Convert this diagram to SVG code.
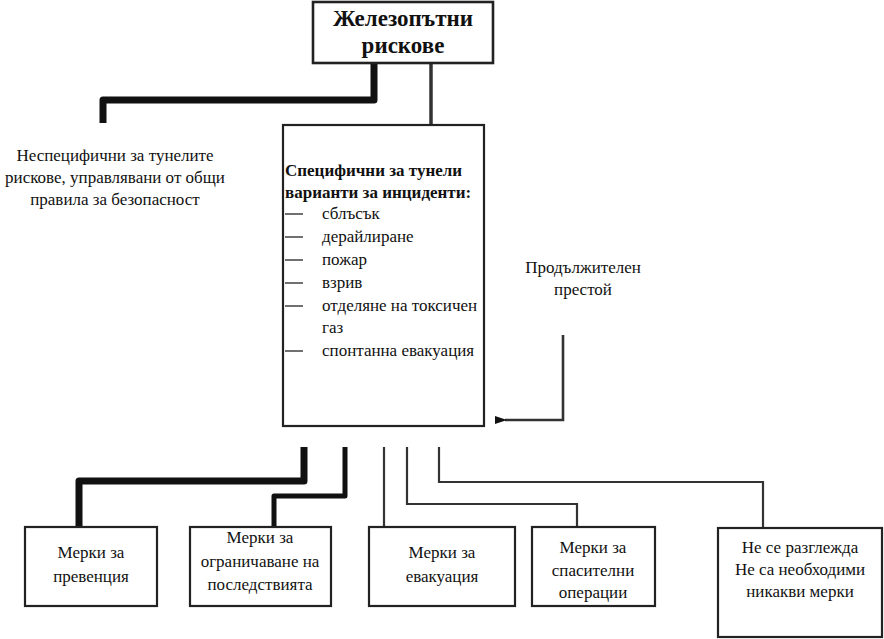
<svg xmlns="http://www.w3.org/2000/svg" width="884" height="639" viewBox="0 0 884 639">
<style>
.box{fill:#fff;stroke:#222;stroke-width:2.2}
.t{font-family:'Liberation Serif','Times New Roman','DejaVu Serif',serif;font-size:17px;fill:#111}
.c{text-anchor:middle}
.b{font-weight:bold}
.title{font-size:23px}
.thick{fill:none;stroke:#111;stroke-width:7;stroke-linejoin:round}
.mid{fill:none;stroke:#111;stroke-width:5;stroke-linejoin:round}
.thin{fill:none;stroke:#333;stroke-width:2.2}
.dash{stroke:#222;stroke-width:1.3}
</style>
<defs>
<marker id="ah" markerWidth="12" markerHeight="10" refX="2" refY="5" orient="auto" markerUnits="userSpaceOnUse">
<path d="M12,1 L0,5 L12,9 Z" fill="#111"/>
</marker>
</defs>
<rect width="884" height="639" fill="#fff"/>
<g id="connectors">
<path class="thick" d="M374,63 V100 H103 V123"/>
<path class="thin" d="M431,63 V125" style="stroke-width:3.5"/>
<path class="thin" d="M563,335 V420 H505" style="stroke-width:2.6" marker-end="url(#ah)"/>
<path class="thick" d="M304,447 V481 H79 V527"/>
<path class="mid" d="M345,447 V496 H274 V527"/>
<path class="thin" d="M384,447 V527"/>
<path class="thin" d="M407,447 V504 H577 V527"/>
<path class="thin" d="M439,447 V482 H763 V528"/>
</g>
<g id="n-top">
<rect class="box" x="313" y="2" width="180" height="61" style="stroke-width:2.6"/>
<text class="t c b title" x="403" y="26">Железопътни</text>
<text class="t c b title" x="403" y="53">рискове</text>
</g>
<g id="n-nonspecific">
<text class="t c" x="115" y="161">Неспецифични за тунелите</text>
<text class="t c" x="115" y="183">рискове, управлявани от общи</text>
<text class="t c" x="115" y="205">правила за безопасност</text>
</g>
<g id="n-specific">
<rect class="box" x="283" y="125" width="201" height="301"/>
<text class="t b" x="285" y="176">Специфични за тунели</text>
<text class="t b" x="285" y="198">варианти за инциденти:</text>
<g class="dash">
<line x1="285" y1="214" x2="303" y2="214"/>
<line x1="285" y1="237" x2="303" y2="237"/>
<line x1="285" y1="260" x2="303" y2="260"/>
<line x1="285" y1="283" x2="303" y2="283"/>
<line x1="285" y1="306" x2="303" y2="306"/>
<line x1="285" y1="351" x2="303" y2="351"/>
</g>
<text class="t" x="322" y="219">сблъсък</text>
<text class="t" x="322" y="242">дерайлиране</text>
<text class="t" x="322" y="265">пожар</text>
<text class="t" x="322" y="288">взрив</text>
<text class="t" x="322" y="311">отделяне на токсичен</text>
<text class="t" x="322" y="333">газ</text>
<text class="t" x="322" y="356">спонтанна евакуация</text>
</g>
<g id="n-stay">
<text class="t c" x="583" y="273">Продължителен</text>
<text class="t c" x="583" y="295">престой</text>
</g>
<g id="n-prevention">
<rect class="box" x="25" y="527" width="132" height="79"/>
<text class="t c" x="91" y="558">Мерки за</text>
<text class="t c" x="91" y="582">превенция</text>
</g>
<g id="n-limit">
<rect class="box" x="190" y="527" width="141" height="79"/>
<text class="t c" x="260" y="543">Мерки за</text>
<text class="t c" x="260" y="567">ограничаване на</text>
<text class="t c" x="260" y="590">последствията</text>
</g>
<g id="n-evac">
<rect class="box" x="369" y="527" width="146" height="79"/>
<text class="t c" x="442" y="558">Мерки за</text>
<text class="t c" x="442" y="582">евакуация</text>
</g>
<g id="n-rescue">
<rect class="box" x="532" y="527" width="123" height="79"/>
<text class="t c" x="593" y="553">Мерки за</text>
<text class="t c" x="593" y="576">спасителни</text>
<text class="t c" x="593" y="598">операции</text>
</g>
<g id="n-none">
<rect class="box" x="718" y="528" width="164" height="109"/>
<text class="t c" x="800" y="553">Не се разглежда</text>
<text class="t c" x="800" y="575">Не са необходими</text>
<text class="t c" x="800" y="597">никакви мерки</text>
</g>
</svg>
